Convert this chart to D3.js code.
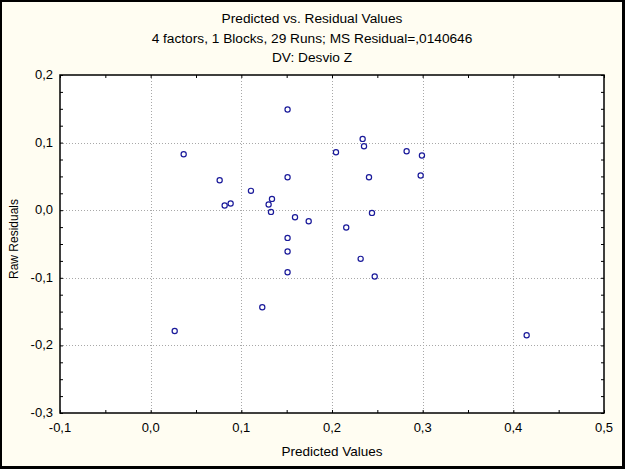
<!DOCTYPE html>
<html>
<head>
<meta charset="utf-8">
<script src="https://cdn.jsdelivr.net/npm/d3@7"></script>
<style>
  html, body { margin: 0; padding: 0; background: #fffdf2; }
  svg { display: block; }
  text { font-family: "Liberation Sans", Arial, sans-serif; fill: #000; }
</style>
</head>
<body>
<svg id="chart" width="625" height="469"></svg>
<script>
const titleLines = ["Predicted vs. Residual Values", "4 factors, 1 Blocks, 29 Runs; MS Residual=,0140646", "DV: Desvio Z"];
const xLabel = "Predicted Values";
const yLabel = "Raw Residuals";
const xTicks = [-0.1, 0.0, 0.1, 0.2, 0.3, 0.4, 0.5];
const yTicks = [-0.3, -0.2, -0.1, 0.0, 0.1, 0.2];
const predicted = [0.151, 0.0364, 0.0761, 0.151, 0.1106, 0.0816, 0.0882, 0.1338, 0.1301, 0.1327,
  0.1592, 0.1743, 0.151, 0.151, 0.151, 0.2338, 0.2353, 0.2044, 0.2823, 0.2992,
  0.2978, 0.2408, 0.2441, 0.2157, 0.2316, 0.2471, 0.0265, 0.1231, 0.4147];
const residuals = [0.149, 0.0828, 0.0444, 0.0488, 0.0286, 0.007, 0.0099, 0.0167, 0.0084, -0.0025,
  -0.0104, -0.0163, -0.041, -0.0611, -0.0917, 0.1055, 0.0947, 0.0858, 0.0873, 0.0809,
  0.0513, 0.0488, -0.004, -0.0256, -0.072, -0.0981, -0.1786, -0.1435, -0.1849];

const W = 625, H = 469;
const m = {left: 60, right: 21, top: 75, bottom: 56};
const svg = d3.select("#chart");
const fmt = v => d3.format(".1f")(v).replace("\u2212", "-").replace(".", ",");

// outer frame
svg.append("rect").attr("x", 0).attr("y", 0).attr("width", W).attr("height", H).attr("fill", "#fffdf2");
svg.append("rect").attr("x", 1).attr("y", 1).attr("width", W - 3).attr("height", H - 3)
  .attr("fill", "none").attr("stroke", "#000").attr("stroke-width", 2);
svg.append("line").attr("x1", 0).attr("x2", W).attr("y1", H - 1).attr("y2", H - 1).attr("stroke", "#000").attr("stroke-width", 2);
svg.append("line").attr("x1", W - 1).attr("x2", W - 1).attr("y1", 0).attr("y2", H).attr("stroke", "#000").attr("stroke-width", 2);

const x = d3.scaleLinear().domain([-0.1, 0.5]).range([m.left, W - m.right]);
const y = d3.scaleLinear().domain([-0.3, 0.2]).range([H - m.bottom, m.top]);
const x0 = m.left, x1 = W - m.right, y0 = H - m.bottom, y1 = m.top;

svg.append("rect").attr("x", x0).attr("y", y1).attr("width", x1 - x0).attr("height", y0 - y1).attr("fill", "#fff");

// grid
const g = svg.append("g");
g.selectAll(".gx").data(xTicks.slice(1, -1)).join("line")
  .attr("x1", d => Math.round(x(d)) + 0.5).attr("x2", d => Math.round(x(d)) + 0.5)
  .attr("y1", y1).attr("y2", y0).attr("stroke", "#a8a8a8").attr("stroke-dasharray", "1,2");
g.selectAll(".gy").data(yTicks.slice(1, -1)).join("line")
  .attr("y1", d => Math.round(y(d)) + 0.5).attr("y2", d => Math.round(y(d)) + 0.5)
  .attr("x1", x0).attr("x2", x1).attr("stroke", "#a8a8a8").attr("stroke-dasharray", "1,2");

// axes (inward ticks)
const xMinor = d3.range(-0.1, 0.5001, 0.05);
const yMinor = d3.range(-0.3, 0.2001, 0.025);
const axB = d3.axisBottom(x).tickValues(xMinor).tickSize(-3).tickFormat("");
const axT = d3.axisTop(x).tickValues(xMinor).tickSize(-3).tickFormat("");
const axL = d3.axisLeft(y).tickValues(yMinor).tickSize(-3).tickFormat("");
const axR = d3.axisRight(y).tickValues(yMinor).tickSize(-3).tickFormat("");
[[axB, `translate(0,${y0})`], [axT, `translate(0,${y1})`], [axL, `translate(${x0},0)`], [axR, `translate(${x1},0)`]]
  .forEach(([ax, tr]) => {
    const a = svg.append("g").attr("transform", tr).call(ax);
    a.select(".domain").remove();
    a.selectAll("line").attr("stroke", "#000");
  });
svg.append("rect").attr("x", x0).attr("y", y1).attr("width", x1 - x0).attr("height", y0 - y1)
  .attr("fill", "none").attr("stroke", "#000").attr("stroke-width", 1.5);

// tick labels
svg.selectAll(".xl").data(xTicks).join("text")
  .attr("x", d => x(d)).attr("y", y0 + 19).attr("text-anchor", "middle")
  .attr("font-size", 13).text(fmt);
svg.selectAll(".yl").data(yTicks).join("text")
  .attr("x", x0 - 7).attr("y", d => y(d) + 4).attr("text-anchor", "end")
  .attr("font-size", 13).text(fmt);

// titles
svg.selectAll(".tt").data(titleLines).join("text")
  .attr("x", 312).attr("y", (d, i) => 23 + i * 19.5).attr("text-anchor", "middle")
  .attr("font-size", 13.7).text(d => d);
svg.append("text").attr("x", (x0 + x1) / 2).attr("y", 456).attr("text-anchor", "middle")
  .attr("font-size", 13.5).text(xLabel);
svg.append("text").attr("transform", `translate(18,239) rotate(-90)`)
  .attr("text-anchor", "middle").attr("font-size", 12).text(yLabel);

// points
svg.append("g").selectAll("circle").data(predicted.map((p, i) => [p, residuals[i]])).join("circle")
  .attr("cx", d => x(d[0])).attr("cy", d => y(d[1])).attr("r", 2.6)
  .attr("fill", "none").attr("stroke", "#1a1a9a").attr("stroke-width", 1.2);
</script>
</body>
</html>
